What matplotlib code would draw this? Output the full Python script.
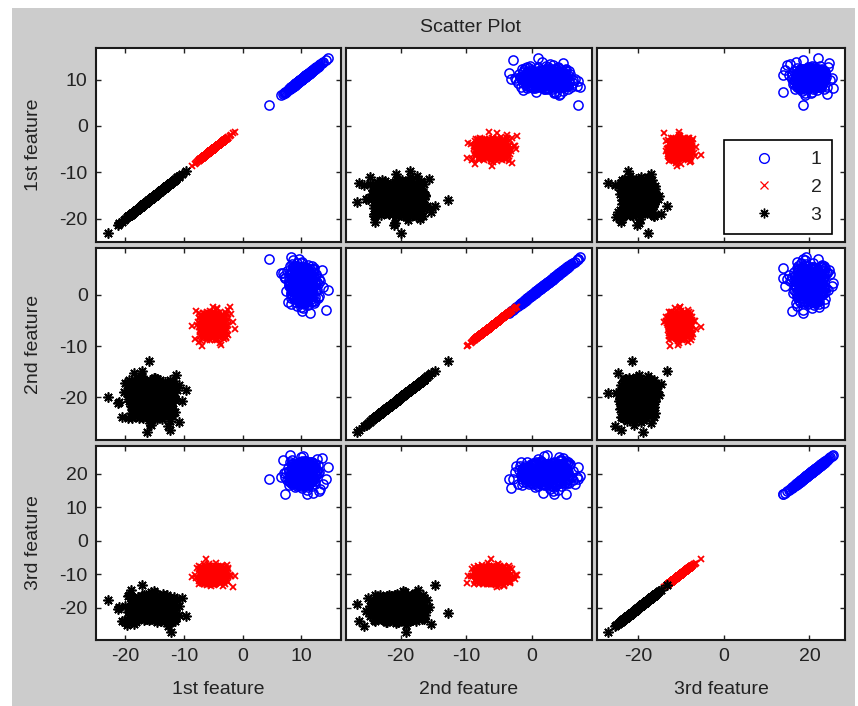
import matplotlib
matplotlib.use("Agg")
import matplotlib.pyplot as plt
from matplotlib.lines import Line2D
from matplotlib.patches import Rectangle

plt.rcParams['font.family'] = ['Liberation Sans', 'DejaVu Sans']
plt.rcParams['axes.unicode_minus'] = False

# ---------------- data (read/estimated from the picture) ----------------
features = ["1st feature", "2nd feature", "3rd feature"]
group_labels = ["1", "2", "3"]

# group 1 (blue circles): spread points + outliers
g1_f1 = [10.2, 8.9, 11.4, 9.6, 12.1, 10.8, 7.9, 9.3, 10.5, 11.9,
         8.4, 10.0, 12.7, 9.1, 10.9, 11.2, 8.7, 9.8, 13.3, 10.4,
         7.2, 11.6, 9.5, 10.7, 8.1, 12.4, 9.9, 10.3, 11.0, 8.6,
         13.8, 9.2, 10.6, 7.6, 11.8, 9.7, 10.1, 12.9, 8.8, 11.3,
         9.4, 10.8, 6.9, 12.2, 10.0, 9.0, 11.5, 8.3, 10.5, 13.1,
         9.6, 11.1, 8.0, 10.2, 12.6, 9.3, 10.9, 7.4, 11.7, 10.3,
         8.5, 12.0, 9.8, 11.4, 10.6, 14.2, 9.1, 8.2, 10.4, 12.3,
         9.7, 11.0, 7.8, 10.7, 13.5, 9.2, 11.9, 8.9, 10.1, 12.8,
         9.5, 10.8, 6.6, 11.2, 9.9, 12.5, 8.6, 10.3, 11.6, 9.0,
         13.0, 10.5, 8.4, 11.3, 9.6, 12.1, 7.1, 10.0, 11.8, 9.4,
         10.9, 8.8, 12.7, 9.8, 11.1, 14.6, 10.2, 8.1, 11.5, 9.3,
         4.5, 7.3, 11.0]
g1_f2 = [1.4, 3.8, -0.6, 2.7, 5.1, 0.3, 2.0, 4.4, -1.8, 3.1,
         1.7, 6.2, 0.9, 2.4, -0.2, 3.6, 4.9, 1.1, 2.8, -2.5,
         3.3, 0.6, 5.6, 1.9, 2.2, -1.1, 4.1, 0.0, 3.0, 6.8,
         1.5, 2.6, -0.9, 4.7, 1.2, 3.4, -3.2, 2.1, 5.3, 0.8,
         2.9, 1.6, 4.3, -1.5, 3.7, 0.4, 2.3, 7.3, 1.0, 3.2,
         -0.4, 5.8, 2.5, 1.3, 4.0, -2.1, 2.8, 0.7, 3.5, 1.8,
         6.0, -0.1, 2.2, 4.6, 1.4, -2.9, 3.1, 0.2, 5.0, 2.6,
         1.9, 3.9, -1.3, 2.0, 4.8, 0.5, 3.3, 1.1, 6.5, -0.7,
         2.7, 1.6, 4.2, -1.9, 3.0, 0.9, 5.4, 2.4, 1.2, 3.8,
         -0.3, 2.1, 4.5, 0.1, 7.0, 1.7, 3.6, -2.4, 2.9, 1.5,
         5.2, 0.6, 2.5, -1.0, 3.4, 1.0, 4.4, 2.3, -3.5, 6.3,
         7.0, 3.3, 5.2]
g1_f3 = [19.6, 21.8, 17.9, 20.4, 23.1, 18.7, 20.9, 16.5, 22.2, 19.2,
         21.4, 18.1, 24.3, 20.0, 17.3, 21.1, 19.8, 22.7, 15.4, 20.6,
         18.9, 23.6, 19.4, 21.7, 17.6, 20.2, 24.9, 18.4, 22.0, 19.0,
         16.9, 21.3, 20.7, 18.2, 23.4, 19.9, 15.9, 22.5, 20.3, 17.8,
         21.0, 19.5, 24.0, 18.6, 20.8, 16.2, 22.9, 19.3, 21.6, 14.8,
         20.1, 23.0, 18.0, 21.9, 19.7, 17.1, 22.4, 20.5, 18.8, 25.3,
         19.1, 21.2, 16.7, 20.0, 23.8, 18.5, 21.5, 19.6, 17.4, 22.1,
         20.4, 15.2, 21.8, 19.0, 24.6, 18.3, 20.9, 22.6, 17.0, 20.2,
         19.4, 23.3, 18.9, 21.1, 16.4, 20.7, 22.8, 19.8, 17.7, 21.4,
         20.6, 18.1, 24.2, 19.2, 21.9, 14.3, 20.3, 22.3, 18.6, 19.9,
         23.7, 17.5, 21.0, 20.1, 16.0, 22.0, 19.5, 25.6, 18.4, 20.8,
         18.4, 13.9, 13.9]
# group 1 dense core
g1_f1_core = [9.9, 10.6, 9.2, 11.1, 10.3, 8.7, 10.9, 9.5, 11.6, 10.1,
              9.0, 10.4, 11.3, 9.7, 10.8, 8.5, 10.0, 11.9, 9.4, 10.5,
              11.0, 9.8, 8.9, 10.7, 10.2, 11.5, 9.3, 10.9, 9.6, 12.0,
              10.3, 8.8, 11.2, 9.9, 10.6, 9.1, 11.7, 10.4, 9.5, 10.0,
              8.6, 10.8, 11.4, 9.7, 10.2, 9.0, 11.1, 10.5, 8.4, 10.9,
              9.8, 11.8, 10.1, 9.3, 10.7, 11.3, 9.6, 10.4, 8.9, 11.0,
              10.0, 9.4, 12.2, 10.6, 9.2, 10.3, 11.5, 9.9, 8.7, 10.8,
              11.2, 9.7, 10.1, 9.0, 11.6, 10.5, 9.5, 10.9, 8.3, 10.2,
              11.9, 9.8, 10.7, 9.3, 11.0, 10.4, 8.8, 10.0, 11.4, 9.6,
              10.6, 9.1, 11.3, 10.2, 9.9, 12.1, 10.8, 9.4, 10.3, 8.6,
              11.1, 9.7, 10.5, 9.2, 11.7, 10.0, 8.5, 10.9, 9.8, 11.2,
              10.4, 9.0, 10.7, 11.8, 9.5, 10.1, 8.9, 11.4, 9.3, 10.6]
g1_f2_core = [2.3, 0.4, 3.9, 1.6, 2.9, -0.8, 4.5, 1.2, 3.3, 2.0,
              0.9, 3.6, 1.8, 5.0, 2.5, -0.3, 3.1, 1.4, 4.2, 2.7,
              0.1, 2.2, 3.8, 1.0, 4.8, 2.6, 1.5, 3.4, -1.2, 2.1,
              3.0, 1.7, 4.4, 0.6, 2.8, 3.5, 1.3, 5.4, 2.4, 0.0,
              3.7, 1.9, 2.6, -0.6, 4.0, 1.1, 3.2, 2.3, 0.7, 4.7,
              1.6, 3.0, -1.5, 2.9, 1.4, 3.9, 0.3, 2.0, 4.3, 1.8,
              2.7, 0.8, 3.5, 1.2, 5.2, 2.2, -0.1, 3.3, 1.7, 2.5,
              4.1, 0.5, 2.8, 1.0, 3.6, 2.1, -0.9, 4.6, 1.5, 3.1,
              2.4, 0.2, 3.8, 1.9, 2.6, 4.9, 1.1, 3.4, 0.6, 2.0,
              3.0, 1.3, -0.4, 4.4, 2.3, 1.6, 3.7, 0.9, 2.8, 5.5,
              1.4, 3.2, 2.0, 0.4, 4.0, 1.8, 3.5, -1.0, 2.5, 1.2,
              4.5, 2.9, 0.7, 3.3, 1.7, 2.2, 5.1, 0.1, 3.9, 2.6]
g1_f3_core = [20.3, 18.8, 21.6, 19.4, 22.2, 20.0, 17.9, 21.1, 19.7, 20.8,
              18.4, 21.9, 19.1, 20.5, 22.8, 19.8, 17.4, 21.3, 20.2, 18.9,
              22.5, 19.5, 20.9, 18.1, 21.7, 20.4, 19.0, 23.2, 20.1, 18.6,
              21.0, 19.9, 22.0, 17.7, 20.6, 19.3, 21.5, 18.3, 20.7, 22.6,
              19.6, 21.2, 18.7, 20.3, 23.0, 19.2, 20.9, 17.2, 21.8, 20.0,
              18.5, 21.4, 19.8, 22.3, 20.5, 18.0, 21.0, 19.4, 20.8, 16.9,
              22.1, 19.7, 20.2, 18.2, 21.6, 20.6, 19.1, 23.5, 20.0, 18.8,
              21.3, 19.5, 22.4, 17.6, 20.4, 19.9, 21.7, 18.4, 20.1, 22.9,
              19.3, 21.1, 18.9, 20.7, 17.0, 21.9, 19.6, 20.3, 22.7, 18.1,
              20.9, 19.0, 21.5, 20.2, 18.6, 22.0, 19.8, 17.8, 21.2, 20.5,
              19.2, 22.5, 18.3, 20.8, 21.4, 19.7, 17.5, 20.0, 22.2, 18.7,
              21.8, 20.4, 19.4, 23.1, 20.1, 18.0, 21.0, 19.9, 22.8, 20.6]
# group 1 intermediate ring
g1_f1_mid = [9.5, 11.3, 8.2, 12.2, 10.4, 8.6, 11.7, 10.0, 10.8, 9.1,
             9.7, 11.5, 8.4, 12.4, 10.6, 8.8, 11.9, 10.2, 11.0, 9.3,
             9.3, 11.1, 8.0, 12.0, 10.2, 8.4, 11.5, 9.8, 10.6, 8.9,
             9.6, 11.4, 8.3, 12.3, 10.5, 8.7, 11.8, 10.1, 10.9, 9.2,
             9.4, 11.2, 8.1, 12.1, 10.3, 8.5, 11.6, 9.9, 10.7, 9.0,
             9.8, 11.6, 8.5, 12.5, 10.7, 8.9, 12.0, 10.3, 11.1, 9.4,
             9.2, 11.0, 7.9, 11.9, 10.1, 8.3, 11.4, 9.7, 10.5, 8.8,
             9.65, 11.45, 8.35, 12.35, 10.55, 8.75, 11.85, 10.15, 10.95, 9.25,
             9.35, 11.15, 8.05, 12.05, 10.25, 8.45, 11.55, 9.85, 10.65, 8.95,
             9.55, 11.35, 8.25, 12.25, 10.45, 8.65, 11.75, 10.05, 10.85, 9.15]
g1_f2_mid = [2.0, 4.7, -0.7, 3.4, 0.6, 5.4, -1.4, 2.7, 0.0, 4.0, 1.3,
             2.2, 4.9, -0.5, 3.6, 0.8, 5.6, -1.2, 2.9, 0.2, 4.2, 1.5,
             1.8, 4.5, -0.9, 3.2, 0.4, 5.2, -1.6, 2.5, -0.2, 3.8, 1.1,
             2.1, 4.8, -0.6, 3.5, 0.7, 5.5, -1.3, 2.8, 0.1, 4.1, 1.4,
             1.9, 4.6, -0.8, 3.3, 0.5, 5.3, -1.5, 2.6, -0.1, 3.9, 1.2,
             2.3, 5.0, -0.4, 3.7, 0.9, 5.7, -1.1, 3.0, 0.3, 4.3, 1.6,
             1.7, 4.4, -1.0, 3.1, 0.3, 5.1, -1.7, 2.4, -0.3, 3.7, 1.0,
             2.15, 4.85, -0.55, 3.55, 0.75, 5.55, -1.25, 2.85, 0.15, 4.15, 1.45,
             1.85, 4.55, -0.85, 3.25, 0.45, 5.25, -1.55, 2.55, -0.15, 3.85, 1.15,
             2.05]
g1_f3_mid = [20.1, 23.3, 18.5, 21.7, 16.9, 20.9, 17.7, 22.5, 19.3,
             20.3, 23.5, 18.7, 21.9, 17.1, 21.1, 17.9, 22.7, 19.5,
             19.9, 23.1, 18.3, 21.5, 16.7, 20.7, 17.5, 22.3, 19.1,
             20.2, 23.4, 18.6, 21.8, 17.0, 21.0, 17.8, 22.6, 19.4,
             20.0, 23.2, 18.4, 21.6, 16.8, 20.8, 17.6, 22.4, 19.2,
             20.4, 23.6, 18.8, 22.0, 17.2, 21.2, 18.0, 22.8, 19.6,
             19.8, 23.0, 18.2, 21.4, 16.6, 20.6, 17.4, 22.2, 19.0,
             20.5, 23.7, 18.9, 22.1, 17.3, 21.3, 18.1, 22.9, 19.7,
             19.7, 22.9, 18.1, 21.3, 16.5, 20.5, 17.3, 22.1, 18.9,
             20.25, 23.45, 18.65, 21.85, 17.05, 21.05, 17.85, 22.65, 19.45,
             19.95, 23.15, 18.35, 21.55, 16.75, 20.75, 17.55, 22.35, 19.15,
             20.15]

# group 2 (red crosses)
g2_f1 = [-5.2, -4.1, -6.3, -5.7, -3.6, -4.8, -6.9, -5.0, -4.4, -3.1,
         -5.5, -6.1, -4.6, -7.4, -5.3, -3.9, -4.9, -5.9, -2.7, -5.1,
         -6.6, -4.3, -5.6, -3.4, -4.7, -6.0, -5.4, -8.1, -4.2, -5.8,
         -3.8, -5.0, -6.4, -4.5, -2.2, -5.7, -4.0, -6.8, -5.2, -3.3,
         -4.9, -6.2, -5.5, -4.1, -7.7, -3.7, -5.1, -4.6, -6.5, -2.9,
         -5.3, -4.4, -5.9, -3.5, -6.1, -4.8, -7.1, -5.0, -3.2, -5.6,
         -4.3, -6.7, -5.4, -1.6, -4.7, -5.8, -3.9, -6.3, -5.1, -4.2,
         -8.6, -5.5, -3.6, -4.9, -6.0, -5.2, -2.5, -4.5, -5.7, -6.6,
         -4.0, -3.4, -5.3, -7.2, -4.6, -5.0, -6.4, -3.0, -4.8, -5.9,
         -4.4, -6.9, -5.4, -2.0, -5.1, -4.1, -6.2, -3.8, -5.6, -7.9,
         -4.7, -5.3, -3.3, -6.0, -4.3, -5.8, -1.3, -4.9, -6.5, -5.0,
         -6.2]
g2_f2 = [-6.4, -5.1, -7.3, -4.6, -6.0, -8.2, -5.5, -3.9, -6.8, -5.8,
         -7.0, -4.3, -6.2, -9.1, -5.3, -6.6, -3.4, -5.9, -7.6, -4.9,
         -6.1, -2.8, -5.7, -7.9, -4.4, -6.5, -5.0, -8.6, -6.3, -3.7,
         -5.6, -7.2, -4.7, -6.0, -2.3, -6.9, -5.2, -8.0, -4.1, -6.4,
         -5.4, -7.5, -3.2, -6.7, -5.9, -9.7, -4.8, -6.2, -5.1, -7.1,
         -3.6, -6.8, -5.5, -4.0, -8.4, -6.1, -5.0, -7.4, -4.5, -6.6,
         -2.6, -5.8, -7.8, -5.3, -6.3, -4.2, -9.3, -5.7, -6.9, -3.5,
         -6.0, -7.7, -4.9, -5.4, -8.8, -6.5, -3.0, -5.6, -7.0, -4.6,
         -6.2, -5.2, -8.1, -4.1, -6.7, -2.4, -5.9, -7.3, -5.0, -6.4,
         -4.4, -9.9, -6.1, -3.8, -5.5, -7.6, -4.8, -6.8, -5.3, -3.1,
         -7.2, -5.8, -4.3, -8.5, -6.0, -5.1, -6.6, -3.3, -7.9, -4.7,
         -6.3]
g2_f3 = [-10.5, -9.1, -11.6, -8.7, -10.0, -12.3, -9.6, -11.0, -7.8, -10.8,
         -9.4, -13.1, -10.2, -8.3, -11.3, -9.9, -12.7, -10.6, -7.2, -11.8,
         -9.0, -10.4, -12.0, -8.9, -11.1, -9.7, -13.6, -10.1, -8.1, -11.5,
         -10.7, -9.3, -12.5, -7.5, -10.3, -11.9, -9.8, -8.5, -11.2, -10.9,
         -13.3, -9.5, -10.0, -12.1, -8.0, -10.6, -11.4, -9.2, -6.8, -11.7,
         -10.4, -8.6, -12.9, -9.9, -11.0, -10.2, -7.9, -12.2, -9.4, -10.8,
         -11.5, -8.8, -10.1, -13.9, -9.6, -11.3, -10.5, -8.2, -12.4, -9.0,
         -10.9, -11.8, -7.4, -10.3, -9.7, -12.8, -8.4, -11.1, -10.0, -9.3,
         -12.0, -10.7, -8.9, -11.6, -6.6, -10.2, -13.0, -9.5, -11.4, -10.6,
         -8.7, -12.6, -9.8, -10.4, -11.9, -7.7, -10.8, -9.1, -12.3, -11.2,
         -10.1, -8.3, -13.4, -9.9, -11.0, -7.0, -10.5, -12.1, -9.2, -11.7,
         -5.3]
g2_f1_core = [-5.1, -4.4, -5.8, -4.9, -6.3, -3.9, -5.4, -4.7, -6.0, -5.2,
              -3.5, -5.6, -4.2, -6.6, -5.0, -4.6, -5.9, -3.2, -5.3, -4.8,
              -6.8, -5.5, -4.1, -5.1, -3.7, -6.1, -4.5, -5.7, -4.9, -6.4,
              -4.3, -5.2, -3.0, -5.8, -4.7, -6.2, -5.0, -3.8, -5.4, -7.0,
              -4.6, -5.6, -4.0, -5.3, -6.5, -4.4, -5.1, -3.4, -5.9, -4.8,
              -6.0, -5.5, -4.2, -6.9, -5.0, -3.6, -5.7, -4.6, -6.3, -5.2,
              -4.9, -3.1, -5.4, -6.1, -4.3, -5.8, -4.7, -6.7, -5.0, -3.9,
              -5.3, -4.5, -6.2, -5.6, -4.1, -7.2, -5.1, -3.3, -5.9, -4.8,
              -6.4, -5.2, -4.4, -5.7, -3.7, -6.0, -4.9, -5.5, -4.0, -6.6,
              -5.0, -3.5, -5.3, -4.6, -6.1, -5.8, -4.2, -6.8, -5.4, -2.9,
              -4.7, -5.6, -6.3, -4.5, -5.1, -3.8, -5.9, -4.3, -6.5, -5.2,
              -4.8, -2.8, -5.5, -6.0, -4.1, -5.7, -4.9, -7.1, -5.3, -3.6]
g2_f2_core = [-6.0, -7.1, -5.4, -6.6, -4.8, -6.3, -7.7, -5.7, -6.9, -5.0,
              -6.4, -4.2, -5.9, -7.4, -6.1, -5.2, -8.0, -6.7, -4.6, -5.6,
              -7.0, -6.2, -3.9, -5.8, -6.8, -5.1, -7.5, -6.0, -4.4, -6.5,
              -5.5, -7.2, -6.3, -3.6, -5.9, -6.9, -5.3, -8.3, -6.1, -4.9,
              -6.6, -5.7, -7.8, -4.5, -6.2, -5.0, -7.3, -6.4, -4.1, -5.6,
              -6.8, -5.4, -8.6, -6.0, -4.7, -7.0, -5.8, -6.5, -3.8, -6.1,
              -5.2, -7.6, -6.3, -4.3, -5.9, -6.7, -5.1, -7.9, -6.0, -4.8,
              -6.4, -5.5, -7.2, -4.0, -6.2, -5.7, -8.1, -6.6, -4.6, -5.3,
              -7.4, -6.0, -3.5, -5.8, -6.9, -5.0, -7.0, -6.3, -4.4, -5.6,
              -6.5, -7.7, -5.2, -4.9, -6.1, -8.4, -5.9, -6.8, -4.2, -5.4,
              -7.1, -6.2, -3.7, -5.7, -6.6, -5.1, -7.5, -6.0, -4.5, -6.4,
              -5.8, -8.2, -6.3, -4.7, -5.5, -7.3, -6.1, -3.9, -5.0, -6.7]
g2_f3_core = [-10.2, -11.4, -9.3, -10.8, -8.6, -11.9, -10.0, -9.7, -12.3, -10.5,
              -8.9, -11.1, -10.3, -12.8, -9.5, -10.7, -7.9, -11.6, -10.1, -9.1,
              -12.0, -10.6, -8.3, -11.3, -9.8, -10.4, -12.6, -9.4, -11.0, -7.6,
              -10.9, -9.9, -11.7, -8.8, -10.2, -12.2, -9.6, -11.2, -10.5, -8.1,
              -11.8, -10.0, -9.2, -12.5, -10.8, -8.5, -11.5, -9.7, -10.3, -13.0,
              -9.0, -11.0, -10.6, -8.0, -11.4, -9.8, -12.1, -10.1, -8.7, -11.6,
              -10.4, -9.3, -12.7, -10.9, -7.8, -11.2, -9.5, -10.7, -12.4, -9.1,
              -10.0, -11.9, -8.4, -10.5, -11.1, -9.6, -12.9, -10.2, -8.9, -11.5,
              -10.8, -9.4, -11.3, -7.4, -10.3, -12.2, -9.9, -10.6, -8.2, -11.7,
              -10.1, -9.0, -12.6, -10.9, -8.6, -11.0, -9.7, -10.4, -12.0, -9.2,
              -11.8, -10.0, -8.8, -11.4, -10.6, -7.7, -12.3, -9.5, -10.8, -11.3,
              -9.8, -10.2, -12.8, -8.3, -11.1, -10.5, -9.3, -11.6, -10.7, -8.0]
g2_f1_mid = [-5.8, -3.7, -7.3, -2.7, -4.7, -6.8, -3.2, -5.3, -4.2, -6.3,
             -5.6, -3.5, -7.1, -2.5, -4.5, -6.6, -3.0, -5.1, -4.0, -6.1,
             -6.0, -3.9, -7.5, -2.9, -4.9, -7.0, -3.4, -5.5, -4.4, -6.5,
             -5.7, -3.6, -7.2, -2.6, -4.6, -6.7, -3.1, -5.2, -4.1, -6.2,
             -5.9, -3.8, -7.4, -2.8, -4.8, -6.9, -3.3, -5.4, -4.3, -6.4,
             -5.5, -3.4, -7.0, -2.4, -4.4, -6.5, -2.9, -5.0, -3.9, -6.0,
             -6.1, -4.0, -7.6, -3.0, -5.0, -7.1, -3.5, -5.6, -4.5, -6.6,
             -5.65, -3.55, -7.15, -2.55, -4.55, -6.65, -3.05, -5.15, -4.05, -6.15,
             -5.95, -3.85, -7.45, -2.85, -4.85, -6.95, -3.35, -5.45, -4.35, -6.45,
             -5.75, -3.65, -7.25, -2.65, -4.65, -6.75, -3.15, -5.25, -4.15, -6.25]
g2_f2_mid = [-6.1, -4.1, -8.1, -5.1, -7.1, -3.6, -8.6, -5.6, -7.6, -4.6, -6.6,
             -5.9, -3.9, -7.9, -4.9, -6.9, -3.4, -8.4, -5.4, -7.4, -4.4, -6.4,
             -6.3, -4.3, -8.3, -5.3, -7.3, -3.8, -8.8, -5.8, -7.8, -4.8, -6.8,
             -6.0, -4.0, -8.0, -5.0, -7.0, -3.5, -8.5, -5.5, -7.5, -4.5, -6.5,
             -6.2, -4.2, -8.2, -5.2, -7.2, -3.7, -8.7, -5.7, -7.7, -4.7, -6.7,
             -5.8, -3.8, -7.8, -4.8, -6.8, -3.3, -8.3, -5.3, -7.3, -4.3, -6.3,
             -6.4, -4.4, -8.4, -5.4, -7.4, -3.9, -8.9, -5.9, -7.9, -4.9, -6.9,
             -5.95, -3.95, -7.95, -4.95, -6.95, -3.45, -8.45, -5.45, -7.45, -4.45, -6.45,
             -6.25, -4.25, -8.25, -5.25, -7.25, -3.75, -8.75, -5.75, -7.75, -4.75, -6.75,
             -6.05]
g2_f3_mid = [-10.2, -7.8, -11.4, -9.0, -12.6, -9.6, -12.0, -8.4, -10.8,
             -10.0, -7.6, -11.2, -8.8, -12.4, -9.4, -11.8, -8.2, -10.6,
             -10.4, -8.0, -11.6, -9.2, -12.8, -9.8, -12.2, -8.6, -11.0,
             -10.1, -7.7, -11.3, -8.9, -12.5, -9.5, -11.9, -8.3, -10.7,
             -10.3, -7.9, -11.5, -9.1, -12.7, -9.7, -12.1, -8.5, -10.9,
             -9.9, -7.5, -11.1, -8.7, -12.3, -9.3, -11.7, -8.1, -10.5,
             -10.5, -8.1, -11.7, -9.3, -12.9, -9.9, -12.3, -8.7, -11.1,
             -9.8, -7.4, -11.0, -8.6, -12.2, -9.2, -11.6, -8.0, -10.4,
             -10.6, -8.2, -11.8, -9.4, -13.0, -10.0, -12.4, -8.8, -11.2,
             -10.05, -7.65, -11.25, -8.85, -12.45, -9.45, -11.85, -8.25, -10.65,
             -10.35, -7.95, -11.55, -9.15, -12.75, -9.75, -12.15, -8.55, -10.95,
             -10.15]

# group 3 (black asterisks)
g3_f1 = [-15.2, -13.8, -17.1, -14.5, -16.3, -12.6, -18.4, -15.9, -14.1, -16.8,
         -13.2, -15.6, -19.3, -14.8, -12.0, -16.1, -17.6, -15.0, -13.5, -18.9,
         -14.3, -16.6, -11.4, -15.4, -17.9, -13.9, -15.8, -20.2, -14.6, -16.4,
         -12.9, -17.3, -15.1, -10.8, -16.9, -14.0, -18.1, -15.7, -13.1, -19.7,
         -14.9, -16.2, -12.3, -15.3, -17.5, -13.6, -20.6, -14.4, -16.7, -11.8,
         -15.5, -18.6, -14.2, -16.0, -12.8, -17.0, -15.1, -13.4, -19.0, -14.7,
         -16.5, -11.1, -15.8, -17.7, -13.7, -15.2, -18.2, -14.0, -16.3, -12.4,
         -21.0, -15.6, -13.0, -16.9, -14.5, -17.4, -10.4, -15.0, -18.7, -14.1,
         -16.1, -12.7, -15.4, -19.5, -13.3, -16.6, -14.8, -17.2, -11.6, -15.9,
         -14.3, -18.0, -15.7, -13.8, -16.4, -20.0, -12.2, -15.3, -17.8, -14.6,
         -16.8, -13.5, -19.2, -15.0, -12.5, -17.1, -14.9, -16.0, -10.9, -18.5,
         -23.0, -21.3, -16.0, -9.6, -16.3, -12.3, -12.2, -17.2]
g3_f2 = [-20.4, -18.7, -22.1, -19.5, -21.3, -17.2, -23.6, -20.0, -18.1, -21.8,
         -19.0, -24.4, -20.7, -16.5, -22.5, -19.8, -21.0, -17.8, -23.1, -20.2,
         -18.4, -21.6, -15.7, -20.9, -22.8, -19.3, -24.9, -18.9, -21.2, -16.9,
         -20.5, -23.3, -19.6, -17.5, -22.0, -20.1, -18.2, -25.3, -21.5, -19.1,
         -16.2, -20.8, -22.6, -18.6, -21.1, -19.9, -23.9, -17.0, -20.3, -22.3,
         -19.4, -15.3, -21.7, -20.6, -18.0, -24.1, -19.7, -21.4, -17.4, -22.9,
         -20.0, -18.5, -23.5, -19.2, -21.9, -16.7, -20.4, -22.2, -18.8, -24.6,
         -20.9, -17.9, -21.3, -19.5, -23.0, -16.0, -20.7, -22.7, -18.3, -21.0,
         -19.8, -25.6, -20.2, -17.6, -22.4, -19.1, -21.8, -15.9, -20.5, -23.7,
         -18.6, -21.1, -19.3, -24.2, -20.1, -17.1, -22.0, -19.9, -21.6, -16.4,
         -23.4, -20.6, -18.2, -21.5, -19.6, -22.8, -17.7, -20.8, -24.7, -19.0,
         -20.0, -21.0, -12.8, -18.6, -26.7, -26.3, -19.1, -14.8]
g3_f3 = [-19.8, -21.5, -18.2, -20.6, -22.9, -17.4, -20.1, -23.7, -19.0, -16.3,
         -21.1, -18.8, -24.5, -20.4, -17.9, -22.2, -19.5, -15.6, -21.8, -20.0,
         -18.5, -23.2, -19.7, -16.9, -22.6, -20.8, -17.1, -24.0, -19.2, -21.4,
         -18.0, -20.3, -15.1, -22.0, -19.9, -23.5, -17.7, -21.0, -18.6, -25.2,
         -20.5, -16.6, -22.4, -19.4, -21.7, -18.3, -23.9, -20.2, -17.2, -21.3,
         -19.1, -24.8, -20.7, -16.1, -22.8, -18.9, -21.6, -19.6, -14.7, -23.0,
         -20.0, -17.6, -22.1, -19.3, -21.9, -18.1, -24.3, -20.9, -16.8, -22.5,
         -19.8, -15.9, -21.2, -18.7, -23.3, -20.4, -17.0, -22.7, -19.0, -21.5,
         -18.4, -25.5, -20.1, -16.4, -22.3, -19.7, -21.0, -17.8, -23.8, -20.6,
         -18.2, -22.0, -15.4, -20.3, -21.8, -19.5, -24.1, -17.3, -20.8, -22.9,
         -19.2, -16.0, -21.4, -18.9, -23.6, -20.5, -17.5, -22.2, -19.4, -21.1,
         -17.8, -20.3, -21.5, -22.4, -18.8, -24.0, -27.1, -13.2]
g3_f1_core = [-15.3, -14.2, -16.7, -13.6, -15.9, -17.4, -14.8, -16.2, -12.9, -15.5,
              -18.1, -14.5, -16.0, -13.2, -15.1, -17.0, -14.0, -16.5, -12.4, -15.7,
              -18.6, -14.7, -16.3, -13.8, -15.2, -17.7, -13.4, -16.8, -14.3, -15.8,
              -12.1, -16.1, -17.2, -14.9, -15.4, -13.0, -18.4, -15.0, -16.6, -14.1,
              -17.9, -15.6, -13.5, -16.4, -14.6, -19.2, -15.3, -12.7, -16.9, -14.4,
              -15.8, -17.5, -13.9, -16.2, -15.0, -11.8, -17.1, -14.8, -16.0, -18.8,
              -15.5, -13.3, -16.7, -14.2, -17.3, -15.1, -12.5, -16.4, -14.9, -18.3,
              -15.7, -13.7, -16.1, -17.8, -14.5, -15.2, -19.5, -14.0, -16.6, -13.1,
              -15.9, -17.0, -14.3, -16.3, -12.2, -15.4, -18.0, -14.7, -16.8, -13.6,
              -15.6, -17.6, -14.1, -16.0, -15.0, -12.8, -17.3, -14.6, -16.5, -18.5,
              -15.3, -13.4, -16.9, -14.4, -17.2, -15.8, -11.6, -16.2, -14.8, -18.9,
              -15.1, -13.9, -16.4, -17.7, -14.2, -15.5, -12.6, -16.7, -15.9, -14.0]
g3_f2_core = [-20.1, -21.4, -19.2, -22.3, -18.5, -20.7, -23.0, -19.6, -21.1, -17.8,
              -20.4, -22.0, -18.9, -21.7, -20.0, -23.6, -19.3, -20.9, -17.2, -21.5,
              -19.8, -22.6, -20.3, -18.2, -21.0, -24.0, -19.5, -20.6, -16.8, -22.2,
              -20.8, -18.7, -21.3, -19.1, -23.3, -20.2, -17.6, -21.8, -19.9, -22.9,
              -18.4, -20.5, -21.6, -19.0, -24.3, -20.0, -18.0, -22.4, -19.7, -21.2,
              -16.5, -20.9, -22.7, -19.4, -21.0, -18.6, -23.8, -20.3, -19.0, -21.9,
              -17.9, -20.6, -22.1, -19.2, -21.4, -16.2, -20.1, -23.1, -18.8, -21.6,
              -20.4, -19.6, -22.5, -18.3, -21.1, -20.8, -24.1, -19.4, -17.4, -22.0,
              -20.2, -18.9, -21.8, -19.8, -23.4, -20.7, -17.1, -21.3, -19.3, -22.8,
              -20.0, -18.1, -21.5, -19.5, -23.9, -20.5, -17.7, -22.2, -19.1, -21.0,
              -20.9, -18.4, -22.6, -19.7, -21.7, -16.9, -20.3, -23.5, -18.7, -21.2,
              -19.9, -22.4, -20.6, -18.2, -21.9, -19.4, -23.2, -20.1, -17.5, -21.5]
g3_f3_core = [-20.2, -18.6, -21.7, -19.3, -22.5, -20.8, -17.4, -21.2, -19.8, -23.1,
              -18.9, -20.5, -22.0, -17.9, -21.5, -19.1, -23.7, -20.0, -18.3, -21.9,
              -20.6, -16.8, -22.3, -19.6, -21.0, -18.1, -23.4, -20.3, -19.4, -22.7,
              -17.6, -21.3, -20.1, -18.8, -22.1, -19.9, -24.0, -20.7, -17.2, -21.6,
              -19.5, -22.9, -18.5, -20.4, -21.1, -16.5, -22.4, -19.0, -20.9, -18.2,
              -23.3, -20.2, -19.7, -21.8, -17.7, -20.6, -22.6, -18.7, -21.4, -19.2,
              -20.0, -23.9, -18.4, -21.0, -19.6, -22.2, -17.0, -20.5, -21.7, -18.9,
              -22.8, -19.4, -20.8, -16.9, -21.3, -20.1, -23.5, -18.6, -19.9, -22.0,
              -20.4, -17.5, -21.6, -19.1, -22.4, -20.7, -18.3, -23.0, -19.8, -21.2,
              -17.8, -20.3, -22.7, -19.5, -21.9, -18.0, -20.9, -24.2, -19.3, -21.5,
              -20.0, -16.6, -22.1, -18.8, -21.1, -19.7, -23.2, -20.6, -17.3, -22.5,
              -19.0, -21.4, -20.2, -18.5, -22.9, -19.6, -17.1, -21.8, -20.4, -23.6]
g3_f1_mid = [-16.7, -13.5, -19.1, -11.9, -15.1, -18.3, -12.7, -15.9, -14.3, -17.5,
             -16.4, -13.2, -18.8, -11.6, -14.8, -18.0, -12.4, -15.6, -14.0, -17.2,
             -17.0, -13.8, -19.4, -12.2, -15.4, -18.6, -13.0, -16.2, -14.6, -17.8,
             -16.55, -13.35, -18.95, -11.75, -14.95, -18.15, -12.55, -15.75, -14.15, -17.35,
             -16.85, -13.65, -19.25, -12.05, -15.25, -18.45, -12.85, -16.05, -14.45, -17.65,
             -16.3, -13.1, -18.7, -11.5, -14.7, -17.9, -12.3, -15.5, -13.9, -17.1,
             -17.1, -13.9, -19.5, -12.3, -15.5, -18.7, -13.1, -16.3, -14.7, -17.9,
             -16.5, -13.3, -18.9, -11.7, -14.9, -18.1, -12.5, -15.7, -14.1, -17.3,
             -16.9, -13.7, -19.3, -12.1, -15.3, -18.5, -12.9, -16.1, -14.5, -17.7,
             -16.6, -13.4, -19.0, -11.8, -15.0, -18.2, -12.6, -15.8, -14.2, -17.4]
g3_f2_mid = [-20.2, -17.4, -23.0, -18.8, -21.6, -16.7, -23.7, -19.5, -22.3, -18.1, -20.9,
             -20.0, -17.2, -22.8, -18.6, -21.4, -16.5, -23.5, -19.3, -22.1, -17.9, -20.7,
             -20.4, -17.6, -23.2, -19.0, -21.8, -16.9, -23.9, -19.7, -22.5, -18.3, -21.1,
             -20.1, -17.3, -22.9, -18.7, -21.5, -16.6, -23.6, -19.4, -22.2, -18.0, -20.8,
             -20.3, -17.5, -23.1, -18.9, -21.7, -16.8, -23.8, -19.6, -22.4, -18.2, -21.0,
             -19.9, -17.1, -22.7, -18.5, -21.3, -16.4, -23.4, -19.2, -22.0, -17.8, -20.6,
             -20.5, -17.7, -23.3, -19.1, -21.9, -17.0, -24.0, -19.8, -22.6, -18.4, -21.2,
             -20.05, -17.25, -22.85, -18.65, -21.45, -16.55, -23.55, -19.35, -22.15, -17.95, -20.75,
             -20.35, -17.55, -23.15, -18.95, -21.75, -16.85, -23.85, -19.65, -22.45, -18.25, -21.05,
             -20.25]
g3_f3_mid = [-20.0, -16.4, -21.8, -18.2, -23.6, -19.1, -22.7, -17.3, -20.9,
             -19.8, -16.2, -21.6, -18.0, -23.4, -18.9, -22.5, -17.1, -20.7,
             -20.2, -16.6, -22.0, -18.4, -23.8, -19.3, -22.9, -17.5, -21.1,
             -19.9, -16.3, -21.7, -18.1, -23.5, -19.0, -22.6, -17.2, -20.8,
             -20.1, -16.5, -21.9, -18.3, -23.7, -19.2, -22.8, -17.4, -21.0,
             -19.7, -16.1, -21.5, -17.9, -23.3, -18.8, -22.4, -17.0, -20.6,
             -20.3, -16.7, -22.1, -18.5, -23.9, -19.4, -23.0, -17.6, -21.2,
             -19.6, -16.0, -21.4, -17.8, -23.2, -18.7, -22.3, -16.9, -20.5,
             -20.4, -16.8, -22.2, -18.6, -24.0, -19.5, -23.1, -17.7, -21.3,
             -19.85, -16.25, -21.65, -18.05, -23.45, -18.95, -22.55, -17.15, -20.75,
             -20.15, -16.55, -21.95, -18.35, -23.75, -19.25, -22.85, -17.45, -21.05,
             -20.05]

groups = [
    [g1_f1 + g1_f1_core + g1_f1_mid, g1_f2 + g1_f2_core + g1_f2_mid, g1_f3 + g1_f3_core + g1_f3_mid],
    [g2_f1 + g2_f1_core + g2_f1_mid, g2_f2 + g2_f2_core + g2_f2_mid, g2_f3 + g2_f3_core + g2_f3_mid],
    [g3_f1 + g3_f1_core + g3_f1_mid, g3_f2 + g3_f2_core + g3_f2_mid, g3_f3 + g3_f3_core + g3_f3_mid],
]

limits = [(-25.0, 16.8), (-28.3, 9.15), (-29.6, 28.3)]
xticks = [[-20, -10, 0, 10], [-20, -10, 0], [-20, 0, 20]]
yticks = [[-20, -10, 0, 10], [-20, -10, 0], [-20, -10, 0, 10, 20]]

# ---------------- styles ----------------
W, H = 858, 706
col_px = [(96, 341), (346, 592), (597, 845)]
row_px = [(48, 242), (248, 440), (446, 640)]
styles = [
    dict(marker='o', color='#0000ff', markerfacecolor='none', markersize=6.6, markeredgewidth=1.1),
    dict(marker='x', color='#ff0000', markersize=5.0, markeredgewidth=1.3),
    dict(marker=(8, 2, 0), color='#000000', markersize=7.2, markeredgewidth=1.2),
]
FS = 14
TXT = '#222222'

fig = plt.figure(figsize=(W / 100, H / 100), dpi=100)
fig.patch.set_facecolor('white')
fig.add_artist(Rectangle((12 / W, 0), (855 - 12) / W, (706 - 8) / H,
                         transform=fig.transFigure, facecolor='#cccccc',
                         edgecolor='none', zorder=-10))

axes = [[None] * 3 for _ in range(3)]
for i in range(3):          # row -> y feature
    for j in range(3):      # col -> x feature
        x0, x1 = col_px[j]
        y0, y1 = row_px[i]
        ax = fig.add_axes([x0 / W, 1 - y1 / H, (x1 - x0) / W, (y1 - y0) / H])
        axes[i][j] = ax
        for g, st in zip(groups, styles):
            ax.plot(g[j], g[i], linestyle='none', **st)
        ax.set_xlim(limits[j])
        ax.set_ylim(limits[i])
        ax.set_xticks(xticks[j])
        ax.set_yticks(yticks[i])
        ax.tick_params(direction='in', length=3.5, width=1.0, top=True, right=True,
                       labelsize=FS, colors=TXT, pad=6)
        ax.tick_params(labelbottom=(i == 2), labelleft=(j == 0))
        for s in ax.spines.values():
            s.set_linewidth(1.5)
            s.set_color('#1a1a1a')
        ax.set_facecolor('white')

# legend in the top-right panel
handles = [Line2D([], [], linestyle='none', **st) for st in styles]
handles[0].set_markersize(7)
handles[0].set_markeredgewidth(1.0)
handles[1].set_markersize(6)
handles[1].set_markeredgewidth(0.9)
handles[2].set_markersize(7)
handles[2].set_markeredgewidth(1.0)
leg = axes[0][2].legend(handles, group_labels, loc='upper left',
                        bbox_to_anchor=(724 / W, 1 - 140 / H),
                        bbox_transform=fig.transFigure,
                        frameon=True, fancybox=False, framealpha=1,
                        edgecolor='black', fontsize=FS, handlelength=3.0,
                        handletextpad=0.9, borderpad=0.55, labelspacing=0.52,
                        borderaxespad=0, numpoints=1)
leg.get_frame().set_linewidth(1.2)
for t in leg.get_texts():
    t.set_color(TXT)

# title and feature labels
fig.text(470 / W, 1 - 27 / H, "Scatter Plot", ha='center', va='center', fontsize=FS, color=TXT)
for j in range(3):
    cx = (col_px[j][0] + col_px[j][1]) / 2
    fig.text(cx / W, 1 - 689 / H, features[j], ha='center', va='center', fontsize=FS, color=TXT)
for i in range(3):
    cy = (row_px[i][0] + row_px[i][1]) / 2
    fig.text(34 / W, 1 - cy / H, features[i], ha='center', va='center', rotation=90,
             fontsize=FS, color=TXT)

fig.savefig("out.png", dpi=100, facecolor=fig.get_facecolor())
